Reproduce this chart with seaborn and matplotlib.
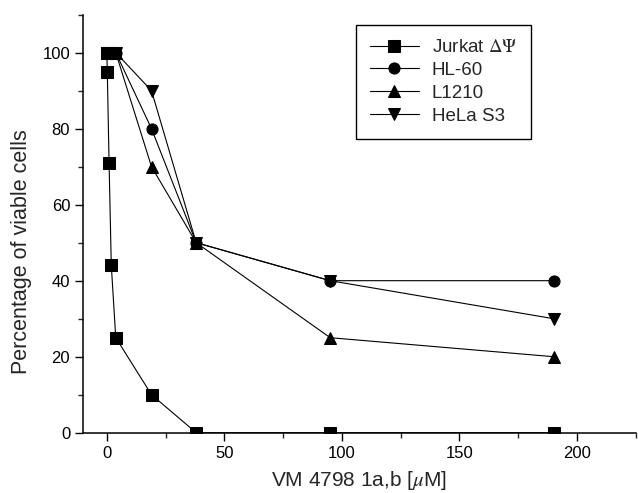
import numpy as np
import pandas as pd
import matplotlib
matplotlib.use("Agg")
import matplotlib.pyplot as plt
from matplotlib.ticker import MultipleLocator
import seaborn as sns

# ---- data ----
series_names = ["Jurkat $\\Delta\\Psi$", "HL-60", "L1210", "HeLa S3"]
jurkat_x = [0, 0.2, 0.95, 1.9, 3.8, 19, 38, 95, 190]
jurkat_y = [100, 95, 71, 44, 25, 10, 0, 0, 0]
hl60_x = [0, 1.9, 3.8, 19, 38, 95, 190]
hl60_y = [100, 100, 100, 80, 50, 40, 40]
l1210_x = [0, 1.9, 3.8, 19, 38, 95, 190]
l1210_y = [100, 100, 100, 70, 50, 25, 20]
hela_x = [0, 1.9, 3.8, 19, 38, 95, 190]
hela_y = [100, 100, 100, 90, 50, 40, 30]
x_ticks = [0, 50, 100, 150, 200]
y_ticks = [0, 20, 40, 60, 80, 100]

frames = []
for name, xs, ys in zip(series_names,
                        [jurkat_x, hl60_x, l1210_x, hela_x],
                        [jurkat_y, hl60_y, l1210_y, hela_y]):
    frames.append(pd.DataFrame({"conc": xs, "viable": ys, "cell": name}))
df = pd.concat(frames, ignore_index=True)

sns.set_style("ticks")
plt.rcParams["font.family"] = ["Liberation Sans", "DejaVu Sans"]
plt.rcParams["mathtext.fontset"] = "stix"

fig = plt.figure(figsize=(6.38, 4.93), dpi=100)
ax = fig.add_axes([0.1306, 0.1223, 0.866, 0.848])

markers = {series_names[0]: "s", series_names[1]: "o",
           series_names[2]: "^", series_names[3]: "v"}
palette = {n: "black" for n in series_names}
sns.lineplot(data=df, x="conc", y="viable", hue="cell", style="cell",
             hue_order=series_names, style_order=series_names,
             markers=markers, dashes=False, palette=palette,
             markersize=8, markeredgecolor="black", linewidth=0.8,
             sort=False, estimator=None, ax=ax)

ax.set_xlim(-10, 225)
ax.set_ylim(0, 110)
ax.set_xticks(x_ticks)
ax.set_yticks(y_ticks)
ax.xaxis.set_minor_locator(MultipleLocator(25))
ax.yaxis.set_minor_locator(MultipleLocator(10))
ax.tick_params(which="major", length=6, width=1, direction="out",
               labelsize=12, colors="black")
ax.tick_params(which="minor", length=3.5, width=1, direction="out")
ax.set_xlabel("VM 4798 1a,b [$\\mu$M]", fontsize=15, labelpad=6)
ax.set_ylabel("Percentage of viable cells", fontsize=15.5)
ax.yaxis.set_label_coords(-0.093, 0.432)
sns.despine(ax=ax)
for s in ["left", "bottom"]:
    ax.spines[s].set_linewidth(1.1)
    ax.spines[s].set_color("black")

leg = ax.legend(loc="upper left", bbox_to_anchor=(0.493, 0.975),
                fontsize=13.5, frameon=True, fancybox=False,
                edgecolor="black", framealpha=1, handlelength=2.6,
                borderpad=0.75, labelspacing=0.3, handletextpad=0.7,
                borderaxespad=0)
leg.get_frame().set_linewidth(1.0)

fig.savefig("out.png", dpi=100)
